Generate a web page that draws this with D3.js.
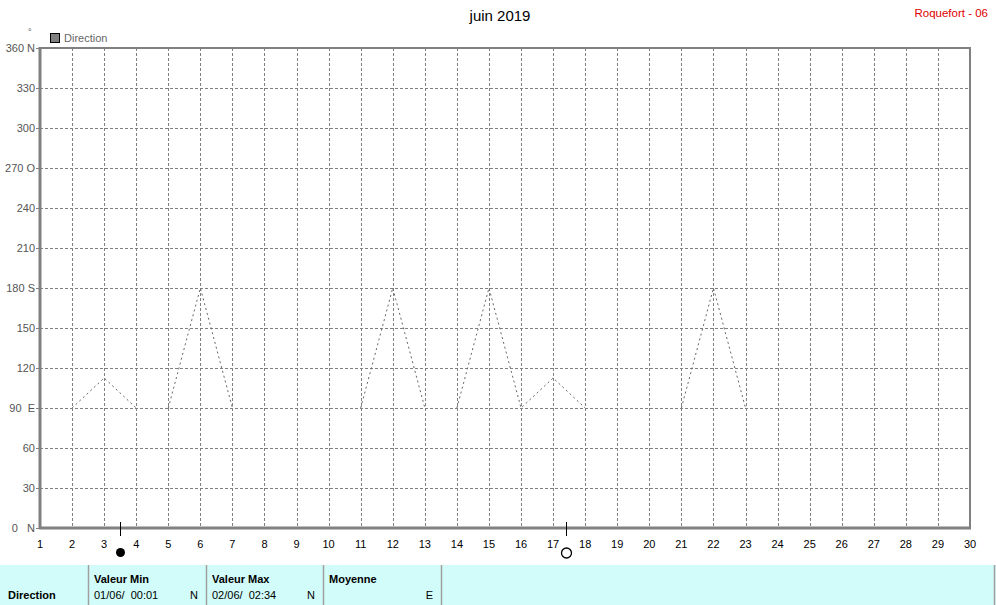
<!DOCTYPE html>
<html><head><meta charset="utf-8">
<script src="https://cdn.jsdelivr.net/npm/d3@7"></script>
<style>
html,body{margin:0;padding:0;background:#fff;}
svg{display:block;font-family:"Liberation Sans",Arial,sans-serif;}
</style></head>
<body>
<script>
const title = "juin 2019";
const station = "Roquefort - 06";
const seriesName = "Direction";
const days = d3.range(1, 31);
const direction = [null, 90, 112.5, 90, 90, 180, 90, 90, 90, 90, 90, 180, 90, 90, 180, 90, 112.5, 90, 90, 90, 90, 180, 90, null, null, null, null, null, null, null];
// day ranges where the recorded line is continuous
const segmentStart = [2, 5, 11, 14, 21];
const segmentEnd = [4, 7, 13, 18, 23];
const yTicks = [0, 30, 60, 90, 120, 150, 180, 210, 240, 270, 300, 330, 360];
const yTickLabels = ["0   N", "30", "60", "90  E", "120", "150", "180 S", "210", "240", "270 O", "300", "330", "360 N"];
const moonDays = [3.5, 17.4];
const moonTypes = ["full", "new"];
const tableHeaders = ["Valeur Min", "Valeur Max", "Moyenne"];
const tableValues = ["01/06/  00:01", "02/06/  02:34", ""];
const tableDirs = ["N", "N", "E"];

const W = 996, H = 605;
const svg = d3.select("body").append("svg").attr("width", W).attr("height", H);
const x = d3.scaleLinear().domain([1, 30]).range([40, 970]);
const y = d3.scaleLinear().domain([0, 360]).range([528, 48]);

// title
svg.append("text").attr("x", 500).attr("y", 21).attr("text-anchor", "middle")
  .attr("font-size", 15).attr("fill", "#000").text(title);
svg.append("text").attr("x", 988).attr("y", 17).attr("text-anchor", "end")
  .attr("font-size", 11.5).attr("fill", "#e00000").text(station);

// degree symbol and legend
svg.append("text").attr("x", 28).attr("y", 35).attr("font-size", 9).attr("fill", "#555").text("°");
svg.append("rect").attr("x", 50.5).attr("y", 33.5).attr("width", 9).attr("height", 9)
  .attr("fill", "#808080").attr("stroke", "#000");
svg.append("text").attr("x", 64).attr("y", 42).attr("font-size", 11).attr("fill", "#666").text(seriesName);

// grid
const g = svg.append("g");
g.selectAll("line.vg").data(days.filter(d => d > 1 && d < 30)).join("line")
  .attr("x1", d => Math.round(x(d)) + 0.5).attr("x2", d => Math.round(x(d)) + 0.5)
  .attr("y1", y(360)).attr("y2", y(0))
  .attr("stroke", "#808080").attr("stroke-dasharray", "3,2");
g.selectAll("line.hg").data(yTicks.filter(d => d > 0 && d < 360)).join("line")
  .attr("y1", d => Math.round(y(d)) + 0.5).attr("y2", d => Math.round(y(d)) + 0.5)
  .attr("x1", x(1)).attr("x2", x(30))
  .attr("stroke", "#808080").attr("stroke-dasharray", "3,2");

// data line segments
const line = d3.line().defined(d => d[1] !== null)
  .x(d => x(d[0])).y(d => y(d[1]));
const segs = segmentStart.map((s, i) => days.map((d, j) => [d, direction[j]]).filter(p => p[0] >= s && p[0] <= segmentEnd[i]));
svg.append("g").selectAll("path").data(segs).join("path")
  .attr("d", line).attr("fill", "none").attr("stroke", "#666")
  .attr("stroke-width", 1).attr("stroke-dasharray", "2,3");

// frame
svg.append("rect").attr("x", x(1)).attr("y", y(360)).attr("width", x(30) - x(1)).attr("height", y(0) - y(360))
  .attr("fill", "none").attr("stroke", "#808080").attr("stroke-width", 2);
svg.append("line").attr("x1", x(1)).attr("x2", x(1)).attr("y1", y(360) - 1).attr("y2", y(0) + 1)
  .attr("stroke", "#808080").attr("stroke-width", 3);
svg.append("line").attr("x1", x(1) - 1).attr("x2", x(30) + 1).attr("y1", y(0)).attr("y2", y(0))
  .attr("stroke", "#808080").attr("stroke-width", 3);

// y axis labels
const ya = svg.append("g");
yTicks.forEach((t, i) => {
  ya.append("line").attr("x1", 36).attr("x2", 40).attr("y1", Math.round(y(t)) + 0.5).attr("y2", Math.round(y(t)) + 0.5)
    .attr("stroke", "#808080");
  ya.append("text").attr("x", 35).attr("y", y(t) + 4).attr("text-anchor", "end")
    .attr("font-size", 11).attr("fill", "#555").style("white-space", "pre")
    .attr("xml:space", "preserve").text(yTickLabels[i]);
});

// x axis labels
svg.append("g").selectAll("text").data(days).join("text")
  .attr("x", d => x(d)).attr("y", 548).attr("text-anchor", "middle")
  .attr("font-size", 11).attr("fill", "#000").text(d => d);

// moon markers
moonDays.forEach((md, i) => {
  const mx = Math.round(x(md)) + 0.5;
  svg.append("line").attr("x1", mx).attr("x2", mx).attr("y1", 522).attr("y2", 536).attr("stroke", "#000");
  if (moonTypes[i] === "full") {
    svg.append("circle").attr("cx", mx).attr("cy", 552.5).attr("r", 4.5).attr("fill", "#000");
  } else {
    svg.append("circle").attr("cx", mx).attr("cy", 553).attr("r", 5).attr("fill", "none")
      .attr("stroke", "#000").attr("stroke-width", 1.3);
  }
});

// table
svg.append("rect").attr("x", 0).attr("y", 565).attr("width", W).attr("height", 40).attr("fill", "#d2fcf9");
const seps = [88, 206, 323, 441, 994];
seps.forEach(sx => {
  svg.append("line").attr("x1", sx + 0.5).attr("x2", sx + 0.5).attr("y1", 565).attr("y2", 605)
    .attr("stroke", "#a0a0a0").attr("stroke-width", 1.5);
});
svg.append("text").attr("x", 8).attr("y", 599).attr("font-size", 11).attr("font-weight", "bold")
  .attr("fill", "#000").text(seriesName);
tableHeaders.forEach((h, i) => {
  const x0 = seps[i] + 6, x1 = seps[i + 1] - 8;
  svg.append("text").attr("x", x0).attr("y", 583).attr("font-size", 11).attr("font-weight", "bold")
    .attr("fill", "#000").text(h);
  svg.append("text").attr("x", x0).attr("y", 599).attr("font-size", 11).attr("fill", "#000")
    .attr("xml:space", "preserve").style("white-space", "pre").text(tableValues[i]);
  svg.append("text").attr("x", x1).attr("y", 599).attr("text-anchor", "end").attr("font-size", 11)
    .attr("fill", "#000").text(tableDirs[i]);
});
</script>
</body></html>
